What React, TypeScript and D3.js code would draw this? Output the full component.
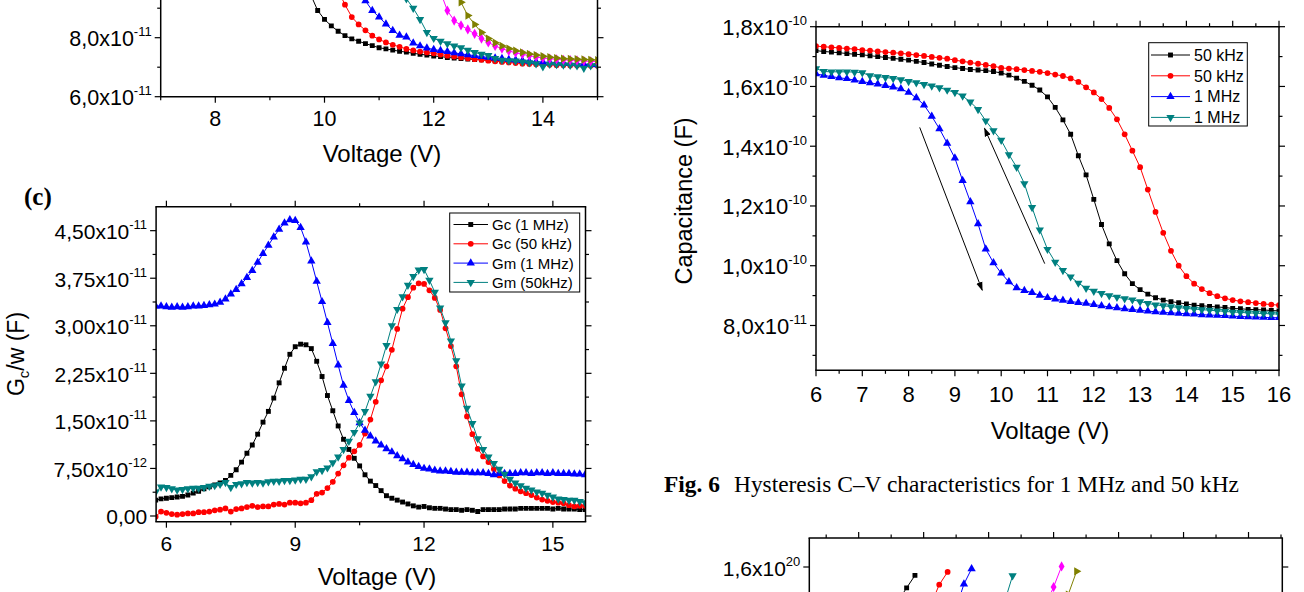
import React from "react";
import * as d3 from "d3";

type Pt = [number, number];

// ================= Panel A (top-left, cropped): capacitance, units of 1e-11 F =================
const aStep = 0.125;
const aBlackStart = 9.625;
const aBlack = [9.95, 9.45, 8.92, 8.62, 8.40, 8.22, 8.07, 7.96, 7.88, 7.80, 7.73, 7.66, 7.62, 7.58, 7.54, 7.51, 7.47, 7.44, 7.41, 7.38, 7.36, 7.33, 7.31, 7.29, 7.28, 7.26, 7.25, 7.23, 7.22, 7.21];
const aRedStart = 10.25;
const aRed = [9.6, 9.12, 8.70, 8.45, 8.25, 8.07, 7.94, 7.84, 7.76, 7.69, 7.62, 7.57, 7.53, 7.50, 7.47, 7.43, 7.39, 7.36, 7.33, 7.30, 7.27, 7.25, 7.22, 7.20, 7.18, 7.16, 7.14, 7.12, 7.11, 7.10, 7.09, 7.08, 7.07, 7.07, 7.06, 7.06, 7.05, 7.05, 7.05];
const aBlueStart = 10.625;
const aBlue = [9.75, 9.25, 8.92, 8.70, 8.46, 8.24, 8.08, 8.02, 7.82, 7.72, 7.65, 7.60, 7.56, 7.53, 7.49, 7.45, 7.42, 7.39, 7.36, 7.33, 7.31, 7.29, 7.26, 7.24, 7.22, 7.20, 7.18, 7.17, 7.16, 7.15, 7.14, 7.12, 7.11, 7.10, 7.09, 7.08];
const aTealStart = 11.375;
const aTeal = [9.9, 9.32, 9.00, 8.62, 8.18, 7.98, 7.88, 7.80, 7.72, 7.66, 7.58, 7.50, 7.44, 7.40, 7.30, 7.24, 7.22, 7.21, 7.18, 7.15, 7.12, 7.02, 7.10, 7.09, 7.08, 7.07, 7.05, 6.97, 7.05, 7.06];
const aMagentaStart = 12.0;
const aMagenta = [10.0, 9.55, 8.92, 8.58, 8.42, 8.28, 8.13, 7.97, 7.84, 7.72, 7.63, 7.55, 7.49, 7.44, 7.39, 7.35, 7.31, 7.29, 7.27, 7.25, 7.24, 7.23, 7.21, 7.20, 7.19];
const aOliveStart = 12.375;
const aOlive = [9.8, 9.2, 8.75, 8.45, 8.18, 7.97, 7.83, 7.72, 7.63, 7.56, 7.50, 7.45, 7.41, 7.37, 7.34, 7.31, 7.29, 7.28, 7.27, 7.26, 7.25, 7.24];
const aXMajor = [8, 10, 12, 14];
const aXLabels = ["8", "10", "12", "14"];
const aXMinor = [7, 9, 11, 13, 15];
const aYMajor = [6, 8];
const aYMant = ["6,0x10", "8,0x10"];
const aYExp = ["-11", "-11"];
const aYMinor = [7, 9];

// ================= Panel (c): Gc/w, units of 1e-11 F =================
const cStart = 5.75;
const cStep = 0.125;
const cGc1MHz = [
  0.25, 0.27, 0.28, 0.29, 0.30, 0.31, 0.33, 0.36,
  0.39, 0.43, 0.46, 0.49, 0.52, 0.56, 0.64, 0.73,
  0.85, 0.99, 1.12, 1.29, 1.48, 1.65, 1.86, 2.10,
  2.33, 2.55, 2.67, 2.71, 2.70, 2.64, 2.44, 2.20,
  1.90, 1.66, 1.42, 1.21, 1.05, 0.91, 0.79, 0.65,
  0.55, 0.48, 0.40, 0.32, 0.28, 0.25, 0.22, 0.19,
  0.16, 0.14, 0.15, 0.13, 0.12, 0.12, 0.11, 0.10,
  0.10, 0.09, 0.10, 0.09, 0.07, 0.10, 0.10, 0.10,
  0.10, 0.11, 0.11, 0.11, 0.12, 0.12, 0.12, 0.12,
  0.12, 0.12, 0.11, 0.12, 0.11, 0.11, 0.11, 0.10,
  0.10,
];
const cGc50kHz = [
  -0.01, 0.07, 0.05, 0.03, 0.02, 0.03, 0.04, 0.04,
  0.06, 0.06, 0.07, 0.09, 0.10, 0.12, 0.07, 0.11,
  0.12, 0.14, 0.16, 0.14, 0.15, 0.15, 0.18, 0.19,
  0.18, 0.21, 0.21, 0.20, 0.21, 0.25, 0.35, 0.37,
  0.44, 0.54, 0.67, 0.80, 0.92, 1.02, 1.12, 1.30,
  1.52, 1.80, 2.14, 2.36, 2.62, 2.95, 3.27, 3.45,
  3.60, 3.67, 3.66, 3.56, 3.44, 3.25, 2.96, 2.68,
  2.36, 1.92, 1.57, 1.29, 1.06, 0.94, 0.85, 0.74,
  0.64, 0.55, 0.48, 0.43, 0.39, 0.36, 0.33, 0.29,
  0.26, 0.24, 0.22, 0.21, 0.20, 0.17, 0.15, 0.16,
  0.16,
];
const cGm1MHz = [
  3.31, 3.31, 3.30, 3.29, 3.30, 3.29, 3.30, 3.31,
  3.31, 3.32, 3.33, 3.34, 3.37, 3.42, 3.50, 3.57,
  3.66, 3.76, 3.87, 4.00, 4.14, 4.27, 4.40, 4.52,
  4.62, 4.67, 4.66, 4.55, 4.32, 4.02, 3.70, 3.38,
  3.05, 2.72, 2.38, 2.06, 1.82, 1.63, 1.47, 1.35,
  1.26, 1.18, 1.12, 1.06, 1.01, 0.95, 0.90, 0.85,
  0.81, 0.78, 0.75, 0.74, 0.72, 0.71, 0.71, 0.70,
  0.69, 0.69, 0.69, 0.68, 0.68, 0.68, 0.67, 0.65,
  0.67, 0.67, 0.67, 0.67, 0.68, 0.68, 0.67, 0.68,
  0.68, 0.67, 0.68, 0.67, 0.67, 0.67, 0.66, 0.66,
  0.65,
];
const cGm50kHz = [
  0.38, 0.46, 0.45, 0.43, 0.41, 0.42, 0.43, 0.44,
  0.44, 0.45, 0.47, 0.48, 0.50, 0.53, 0.45, 0.50,
  0.51, 0.53, 0.52, 0.53, 0.52, 0.54, 0.55, 0.55,
  0.56, 0.56, 0.57, 0.58, 0.58, 0.62, 0.70, 0.72,
  0.76, 0.84, 0.93, 1.05, 1.18, 1.32, 1.47, 1.65,
  1.89, 2.12, 2.40, 2.69, 3.00, 3.26, 3.46, 3.64,
  3.78, 3.88, 3.89, 3.72, 3.53, 3.28, 3.05, 2.76,
  2.45, 2.05, 1.70, 1.46, 1.22, 1.05, 0.93, 0.83,
  0.74, 0.66, 0.58, 0.52, 0.48, 0.44, 0.41, 0.38,
  0.36, 0.33, 0.30, 0.27, 0.26, 0.25, 0.25, 0.23,
  0.21,
];
const cLegend = ["Gc (1 MHz)", "Gc (50 kHz)", "Gm (1 MHz)", "Gm (50kHz)"];
const cXMajor = [6, 9, 12, 15];
const cXLabels = ["6", "9", "12", "15"];
const cXMinor = [7.5, 10.5, 13.5];
const cYMajor = [0, 0.75, 1.5, 2.25, 3, 3.75, 4.5];
const cYMant = ["0,00", "7,50x10", "1,50x10", "2,25x10", "3,00x10", "3,75x10", "4,50x10"];
const cYExp = ["", "-12", "-11", "-11", "-11", "-11", "-11"];
const cYMinor = [0.375, 1.125, 1.875, 2.625, 3.375, 4.125];

// ================= Fig. 6: hysteresis C–V, units of 1e-10 F =================
const fStart = 6;
const fStep = 1 / 6;
const fBlack50k = [
  1.720, 1.717, 1.715, 1.713, 1.710, 1.708,
  1.706, 1.703, 1.700, 1.697, 1.694, 1.691,
  1.688, 1.684, 1.680, 1.675, 1.671, 1.667,
  1.663, 1.660, 1.657, 1.655, 1.653, 1.650,
  1.645, 1.638, 1.628, 1.617, 1.604, 1.588,
  1.565, 1.530, 1.488, 1.440, 1.368, 1.304,
  1.222, 1.138, 1.073, 1.017, 0.973, 0.940,
  0.920, 0.905, 0.893, 0.885, 0.880, 0.876,
  0.872, 0.868, 0.866, 0.864, 0.862, 0.860,
  0.857, 0.856, 0.854, 0.853, 0.852, 0.850,
  0.849,
];
const fRed50k = [
  1.735, 1.733, 1.731, 1.729, 1.727, 1.725,
  1.722, 1.720, 1.717, 1.715, 1.713, 1.711,
  1.708, 1.705, 1.702, 1.699, 1.696, 1.693,
  1.688, 1.684, 1.680, 1.676, 1.672, 1.668,
  1.662, 1.660, 1.658, 1.655, 1.652, 1.649,
  1.645, 1.640, 1.635, 1.627, 1.615, 1.597,
  1.580, 1.558, 1.528, 1.490, 1.440, 1.385,
  1.330, 1.255, 1.180, 1.110, 1.050, 1.000,
  0.965, 0.940, 0.922, 0.908, 0.898, 0.891,
  0.885, 0.881, 0.878, 0.875, 0.872, 0.870,
  0.868,
];
const fBlue1M = [
  1.642, 1.637, 1.633, 1.629, 1.626, 1.621,
  1.616, 1.612, 1.608, 1.603, 1.598, 1.592,
  1.580, 1.562, 1.538, 1.500, 1.458, 1.410,
  1.360, 1.285, 1.214, 1.140, 1.056, 1.010,
  0.975, 0.946, 0.926, 0.917, 0.910, 0.901,
  0.893, 0.888, 0.884, 0.880, 0.877, 0.874,
  0.870, 0.866, 0.862, 0.859, 0.856, 0.853,
  0.851, 0.848, 0.846, 0.844, 0.842, 0.841,
  0.839, 0.838, 0.836, 0.835, 0.834, 0.833,
  0.831, 0.830, 0.829, 0.828, 0.827, 0.826,
  0.826,
];
const fTeal1M = [
  1.660, 1.650, 1.649, 1.649, 1.649, 1.648,
  1.646, 1.636, 1.633, 1.630, 1.627, 1.623,
  1.617, 1.613, 1.607, 1.602, 1.596, 1.588,
  1.580, 1.568, 1.548, 1.523, 1.485, 1.452,
  1.420, 1.372, 1.330, 1.275, 1.195, 1.120,
  1.055, 1.012, 0.984, 0.963, 0.942, 0.925,
  0.915, 0.907, 0.900, 0.895, 0.890, 0.886,
  0.880, 0.874, 0.869, 0.866, 0.863, 0.860,
  0.857, 0.855, 0.853, 0.851, 0.849, 0.847,
  0.845, 0.844, 0.842, 0.841, 0.840, 0.839,
  0.838,
];
const fLegend = ["50 kHz", "50 kHz", "1 MHz", "1 MHz"];
// arrows: [V start, C start, V end, C end]
const fArrowDown = [8.24, 1.463, 9.59, 0.918];
const fArrowUp = [10.94, 1.007, 9.64, 1.46];
const fXMajor = [6, 7, 8, 9, 10, 11, 12, 13, 14, 15, 16];
const fXLabels = ["6", "7", "8", "9", "10", "11", "12", "13", "14", "15", "16"];
const fXMinor = [6.5, 7.5, 8.5, 9.5, 10.5, 11.5, 12.5, 13.5, 14.5, 15.5];
const fYMajor = [0.8, 1.0, 1.2, 1.4, 1.6, 1.8];
const fYMant = ["8,0x10", "1,0x10", "1,2x10", "1,4x10", "1,6x10", "1,8x10"];
const fYExp = ["-11", "-10", "-10", "-10", "-10", "-10"];
const fYMinor = [0.7, 0.9, 1.1, 1.3, 1.5, 1.7];

// ================= Bottom-right panel (cropped), units of 1e20 =================
const bBlack: Pt[] = [[8.61, 1.484], [8.738, 1.528], [8.866, 1.571]];
const bRed: Pt[] = [[9.128, 1.479], [9.24, 1.539], [9.369, 1.583]];
const bBlue: Pt[] = [[9.528, 1.478], [9.62, 1.541], [9.738, 1.594]];
const bTeal: Pt[] = [[10.2, 1.45], [10.28, 1.505], [10.369, 1.57]];
const bMagenta: Pt[] = [[10.897, 1.479], [11.0, 1.531], [11.123, 1.602]];
const bOlive: Pt[] = [[11.14, 1.45], [11.225, 1.505], [11.354, 1.585]];
const bXMajor = [8, 9, 10, 11, 12, 13, 14];
const bXMinor = [7.5, 8.5, 9.5, 10.5, 11.5, 12.5, 13.5, 14.5];
const bYMajor = [1.6];
const bYMant = ["1,6x10"];
const bYExp = ["20"];

// ================= styling =================
const SANS = "'Liberation Sans', Arial, Helvetica, sans-serif";
const SERIF = "'Liberation Serif', 'Times New Roman', serif";
const C = {
  black: "#000000",
  red: "#ff0000",
  blue: "#0000ff",
  teal: "#008080",
  magenta: "#ff00ff",
  olive: "#808000",
};

const grid = (start: number, step: number, vals: number[]): Pt[] =>
  vals.map((v, i) => [start + i * step, v] as Pt);

const SYM: Record<string, { d: string; rot: number }> = {
  square: { d: d3.symbol(d3.symbolSquare, 24)()!, rot: 0 },
  circle: { d: d3.symbol(d3.symbolCircle, 26)()!, rot: 0 },
  up: { d: d3.symbol(d3.symbolTriangle, 30)()!, rot: 0 },
  down: { d: d3.symbol(d3.symbolTriangle, 30)()!, rot: 180 },
  diamond: { d: d3.symbol(d3.symbolDiamond, 30)()!, rot: 0 },
  right: { d: d3.symbol(d3.symbolTriangle, 30)()!, rot: 90 },
};

function Marker({ x, y, shape, color }: { x: number; y: number; shape: string; color: string }) {
  const s = SYM[shape];
  return (
    <path
      d={s.d}
      fill={color}
      transform={`translate(${x},${y})${s.rot ? ` rotate(${s.rot})` : ""}`}
    />
  );
}

function Series({
  pts, xs, ys, color, shape, clip,
}: {
  pts: Pt[];
  xs: d3.ScaleLinear<number, number>;
  ys: d3.ScaleLinear<number, number>;
  color: string;
  shape: string;
  clip: string;
}) {
  const line = d3.line<Pt>().x((d) => xs(d[0])).y((d) => ys(d[1]));
  return (
    <g clipPath={`url(#${clip})`}>
      <path d={line(pts) || ""} fill="none" stroke={color} strokeWidth={1} />
      {pts.map((p, i) => (
        <Marker key={i} x={xs(p[0])} y={ys(p[1])} shape={shape} color={color} />
      ))}
    </g>
  );
}

interface FrameProps {
  xs: d3.ScaleLinear<number, number>;
  ys: d3.ScaleLinear<number, number>;
  left: number; right: number; top: number; bottom: number;
  showTop: boolean;
  xMajor: number[]; xMinor: number[]; xLabels?: string[];
  yMajor: number[]; yMinor: number[]; yMant: string[]; yExp: string[];
  xLabelBase: number; fontSize: number;
}

function Frame(p: FrameProps) {
  const sw = 1.5;
  const M = 6, m = 3.5;
  const ys = p.ys, xs = p.xs;
  const inY = (v: number) => ys(v) >= p.top - 0.5 && ys(v) <= p.bottom + 0.5;
  const el: React.ReactNode[] = [];
  // box
  el.push(<line key="l" x1={p.left} x2={p.left} y1={p.top} y2={p.bottom} stroke="#000" strokeWidth={sw} />);
  el.push(<line key="r" x1={p.right} x2={p.right} y1={p.top} y2={p.bottom} stroke="#000" strokeWidth={sw} />);
  el.push(<line key="b" x1={p.left - sw / 2} x2={p.right + sw / 2} y1={p.bottom} y2={p.bottom} stroke="#000" strokeWidth={sw} />);
  if (p.showTop)
    el.push(<line key="t" x1={p.left - sw / 2} x2={p.right + sw / 2} y1={p.top} y2={p.top} stroke="#000" strokeWidth={sw} />);
  // x ticks
  const xt = (vals: number[], len: number, k: string) =>
    vals.forEach((v, i) => {
      const x = xs(v);
      el.push(<line key={`${k}b${i}`} x1={x} x2={x} y1={p.bottom} y2={p.bottom + len} stroke="#000" strokeWidth={1.2} />);
      if (p.showTop)
        el.push(<line key={`${k}t${i}`} x1={x} x2={x} y1={p.top} y2={p.top - len} stroke="#000" strokeWidth={1.2} />);
    });
  xt(p.xMajor, M, "XM");
  xt(p.xMinor, m, "Xm");
  // y ticks
  const yt = (vals: number[], len: number, k: string) =>
    vals.forEach((v, i) => {
      if (!inY(v)) return;
      const y = ys(v);
      el.push(<line key={`${k}l${i}`} x1={p.left - len} x2={p.left} y1={y} y2={y} stroke="#000" strokeWidth={1.2} />);
      el.push(<line key={`${k}r${i}`} x1={p.right} x2={p.right + len} y1={y} y2={y} stroke="#000" strokeWidth={1.2} />);
    });
  yt(p.yMajor, M, "YM");
  yt(p.yMinor, m, "Ym");
  // labels
  if (p.xLabels)
    p.xMajor.forEach((v, i) =>
      el.push(
        <text key={`xl${i}`} x={xs(v)} y={p.xLabelBase} textAnchor="middle" fontFamily={SANS} fontSize={p.fontSize}>
          {p.xLabels![i]}
        </text>
      )
    );
  p.yMajor.forEach((v, i) => {
    el.push(
      <text key={`yl${i}`} x={p.left - 9} y={ys(v) + 8.5} textAnchor="end" fontFamily={SANS} fontSize={p.fontSize}>
        <tspan>{p.yMant[i]}</tspan>
        {p.yExp[i] ? (
          <tspan fontSize={13} dy={-10}>{p.yExp[i]}</tspan>
        ) : null}
      </text>
    );
  });
  return <g>{el}</g>;
}

function Legend({
  x, y, w, h, y0, dy, labels, colors, shapes, fontSize, lineX0, lineX1, textX,
}: {
  x: number; y: number; w: number; h: number; y0: number; dy: number;
  labels: string[]; colors: string[]; shapes: string[]; fontSize: number;
  lineX0: number; lineX1: number; textX: number;
}) {
  return (
    <g>
      <rect x={x} y={y} width={w} height={h} fill="#fff" stroke="#000" strokeWidth={1} />
      {labels.map((l, i) => {
        const yy = y0 + i * dy;
        return (
          <g key={i}>
            <line x1={lineX0} x2={lineX1} y1={yy} y2={yy} stroke={colors[i]} strokeWidth={1} />
            <Marker x={(lineX0 + lineX1) / 2} y={yy} shape={shapes[i]} color={colors[i]} />
            <text x={textX} y={yy + fontSize * 0.36} fontFamily={SANS} fontSize={fontSize}>
              {l}
            </text>
          </g>
        );
      })}
    </g>
  );
}

export default function App() {
  // scales
  const xA = d3.scaleLinear().domain([7, 15]).range([160.7, 597.5]);
  const yA = d3.scaleLinear().domain([6, 8]).range([96.7, 37.7]);
  const xC = d3.scaleLinear().domain([5.76, 15.76]).range([156.1, 585.5]);
  const yC = d3.scaleLinear().domain([-0.09, 4.878]).range([521.7, 206.7]);
  const xF = d3.scaleLinear().domain([6, 16]).range([816, 1279]);
  const yF = d3.scaleLinear().domain([0.65, 1.8]).range([370.3, 26.7]);
  const xB = d3.scaleLinear().domain([7.24, 14.52]).range([809.3, 1282.3]);
  const yB = d3.scaleLinear().domain([1.6, 1.7]).range([567, 538]);

  const aRect = { left: xA(7), right: xA(15), top: -20, bottom: yA(6) };
  const cRect = { left: xC(5.76), right: xC(15.76), top: yC(4.878), bottom: yC(-0.09) };
  const fRect = { left: xF(6), right: xF(16), top: yF(1.8), bottom: yF(0.65) };
  const bRect = { left: xB(7.24), right: xB(14.52), top: yB(1.7), bottom: 640 };

  const arrow = (a: number[], k: string) => (
    <line
      key={k}
      x1={xF(a[0])} y1={yF(a[1])} x2={xF(a[2])} y2={yF(a[3])}
      stroke="#000" strokeWidth={1} markerEnd="url(#arrowHead)"
    />
  );

  return (
    <svg
      width={1304}
      height={592}
      viewBox="0 0 1304 592"
      style={{ position: "absolute", left: 0, top: 0, display: "block", background: "#fff" }}
    >
      <defs>
        <clipPath id="clipA">
          <rect x={aRect.left} y={aRect.top} width={aRect.right - aRect.left} height={aRect.bottom - aRect.top} />
        </clipPath>
        <clipPath id="clipC">
          <rect x={cRect.left} y={cRect.top} width={cRect.right - cRect.left} height={cRect.bottom - cRect.top} />
        </clipPath>
        <clipPath id="clipF">
          <rect x={fRect.left} y={fRect.top} width={fRect.right - fRect.left} height={fRect.bottom - fRect.top} />
        </clipPath>
        <clipPath id="clipB">
          <rect x={bRect.left} y={bRect.top} width={bRect.right - bRect.left} height={bRect.bottom - bRect.top} />
        </clipPath>
        <marker id="arrowHead" viewBox="0 0 10 10" refX="9" refY="5" markerWidth="9" markerHeight="9" markerUnits="userSpaceOnUse" orient="auto">
          <path d="M0,1.5 L10,5 L0,8.5 Z" fill="#000" />
        </marker>
      </defs>
      <rect x={0} y={0} width={1304} height={592} fill="#fff" />

      {/* ---------- Panel A ---------- */}
      <Series pts={grid(aBlackStart, aStep, aBlack)} xs={xA} ys={yA} color={C.black} shape="square" clip="clipA" />
      <Series pts={grid(aRedStart, aStep, aRed)} xs={xA} ys={yA} color={C.red} shape="circle" clip="clipA" />
      <Series pts={grid(aBlueStart, aStep, aBlue)} xs={xA} ys={yA} color={C.blue} shape="up" clip="clipA" />
      <Series pts={grid(aTealStart, aStep, aTeal)} xs={xA} ys={yA} color={C.teal} shape="down" clip="clipA" />
      <Series pts={grid(aMagentaStart, aStep, aMagenta)} xs={xA} ys={yA} color={C.magenta} shape="diamond" clip="clipA" />
      <Series pts={grid(aOliveStart, aStep, aOlive)} xs={xA} ys={yA} color={C.olive} shape="right" clip="clipA" />
      <Frame
        xs={xA} ys={yA} {...aRect} showTop={false}
        xMajor={aXMajor} xMinor={aXMinor} xLabels={aXLabels}
        yMajor={aYMajor} yMinor={aYMinor} yMant={aYMant} yExp={aYExp}
        xLabelBase={126} fontSize={21.5}
      />
      <text x={382} y={162} textAnchor="middle" fontFamily={SANS} fontSize={24}>Voltage (V)</text>

      {/* ---------- Panel (c) ---------- */}
      <text x={24} y={205} fontFamily={SERIF} fontWeight="bold" fontSize={25}>(c)</text>
      <Series pts={grid(cStart, cStep, cGc1MHz)} xs={xC} ys={yC} color={C.black} shape="square" clip="clipC" />
      <Series pts={grid(cStart, cStep, cGc50kHz)} xs={xC} ys={yC} color={C.red} shape="circle" clip="clipC" />
      <Series pts={grid(cStart, cStep, cGm1MHz)} xs={xC} ys={yC} color={C.blue} shape="up" clip="clipC" />
      <Series pts={grid(cStart, cStep, cGm50kHz)} xs={xC} ys={yC} color={C.teal} shape="down" clip="clipC" />
      <Frame
        xs={xC} ys={yC} {...cRect} showTop={true}
        xMajor={cXMajor} xMinor={cXMinor} xLabels={cXLabels}
        yMajor={cYMajor} yMinor={cYMinor} yMant={cYMant} yExp={cYExp}
        xLabelBase={551} fontSize={21}
      />
      <Legend
        x={449.7} y={213} w={130} h={79} y0={224.5} dy={19.3}
        labels={cLegend}
        colors={[C.black, C.red, C.blue, C.teal]}
        shapes={["square", "circle", "up", "down"]}
        fontSize={15} lineX0={453.5} lineX1={488} textX={492}
      />
      <text x={377} y={585} textAnchor="middle" fontFamily={SANS} fontSize={24}>Voltage (V)</text>
      <text transform="translate(24,354) rotate(-90)" textAnchor="middle" fontFamily={SANS} fontSize={23}>
        G<tspan fontSize={15} dy={5}>c</tspan>
        <tspan dy={-5}>/w (F)</tspan>
      </text>

      {/* ---------- Fig. 6 ---------- */}
      <Series pts={grid(fStart, fStep, fBlack50k)} xs={xF} ys={yF} color={C.black} shape="square" clip="clipF" />
      <Series pts={grid(fStart, fStep, fRed50k)} xs={xF} ys={yF} color={C.red} shape="circle" clip="clipF" />
      <Series pts={grid(fStart, fStep, fBlue1M)} xs={xF} ys={yF} color={C.blue} shape="up" clip="clipF" />
      <Series pts={grid(fStart, fStep, fTeal1M)} xs={xF} ys={yF} color={C.teal} shape="down" clip="clipF" />
      {arrow(fArrowDown, "a1")}
      {arrow(fArrowUp, "a2")}
      <Frame
        xs={xF} ys={yF} {...fRect} showTop={true}
        xMajor={fXMajor} xMinor={fXMinor} xLabels={fXLabels}
        yMajor={fYMajor} yMinor={fYMinor} yMant={fYMant} yExp={fYExp}
        xLabelBase={402} fontSize={22}
      />
      <Legend
        x={1148.7} y={42.7} w={98.6} h={83.3} y0={55} dy={20.8}
        labels={fLegend}
        colors={[C.black, C.red, C.blue, C.teal]}
        shapes={["square", "circle", "up", "down"]}
        fontSize={16} lineX0={1151} lineX1={1190} textX={1194}
      />
      <text x={1050} y={439} textAnchor="middle" fontFamily={SANS} fontSize={24}>Voltage (V)</text>
      <text transform="translate(692,201) rotate(-90)" textAnchor="middle" fontFamily={SANS} fontSize={23.5}>
        Capacitance (F)
      </text>

      {/* ---------- caption ---------- */}
      <text x={664} y={492} fontFamily={SERIF} fontSize={23.4}>
        <tspan fontWeight="bold">Fig. 6</tspan>
        <tspan x={734}>Hysteresis C–V characteristics for 1 MHz and 50 kHz</tspan>
      </text>

      {/* ---------- bottom-right panel (cropped) ---------- */}
      <Series pts={bBlack} xs={xB} ys={yB} color={C.black} shape="square" clip="clipB" />
      <Series pts={bRed} xs={xB} ys={yB} color={C.red} shape="circle" clip="clipB" />
      <Series pts={bBlue} xs={xB} ys={yB} color={C.blue} shape="up" clip="clipB" />
      <Series pts={bTeal} xs={xB} ys={yB} color={C.teal} shape="down" clip="clipB" />
      <Series pts={bMagenta} xs={xB} ys={yB} color={C.magenta} shape="diamond" clip="clipB" />
      <Series pts={bOlive} xs={xB} ys={yB} color={C.olive} shape="right" clip="clipB" />
      <Frame
        xs={xB} ys={yB} {...bRect} showTop={true}
        xMajor={bXMajor} xMinor={bXMinor}
        yMajor={bYMajor} yMinor={[]} yMant={bYMant} yExp={bYExp}
        xLabelBase={700} fontSize={21}
      />
    </svg>
  );
}
